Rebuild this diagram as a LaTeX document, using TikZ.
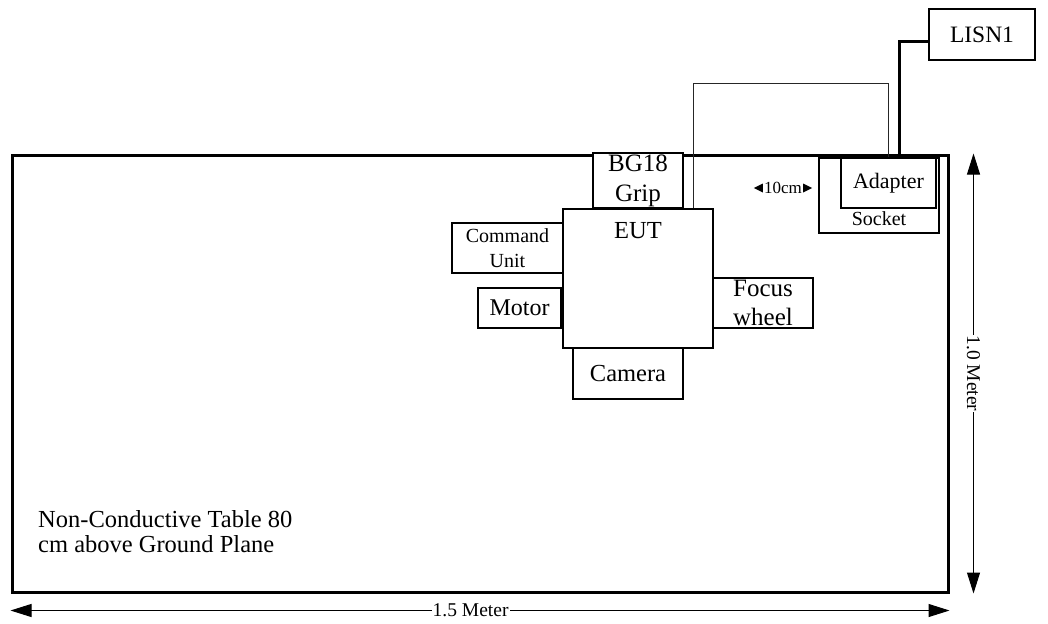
\documentclass[tikz,border=0pt]{standalone}
\usepackage{fontspec}
\setmainfont{Liberation Serif}
\usetikzlibrary{arrows.meta}

\begin{document}
\begin{tikzpicture}[x=1pt,y=-1pt,
  box/.style={draw,fill=white,line width=1.1pt,inner sep=0pt,align=center},
  dimline/.style={{Triangle[length=21pt,width=13pt]}-{Triangle[length=21pt,width=13pt]},line width=1pt},
  dimtext/.style={fill=white,inner sep=1pt,font=\fontsize{19.5}{24}\selectfont}]
  \useasboundingbox (0,0) rectangle (1048,623);
  % table top
  \node[draw,line width=3pt,minimum width=936pt,minimum height=437pt] (table) at (480,373.5) {};
  \node[anchor=west,align=left,inner sep=0pt,font=\fontsize{24.5}{25}\selectfont]
    (note) at (38,532) {Non-Conductive Table 80\\cm above Ground Plane};
  % units round the EUT
  \node[box,minimum width=111pt,minimum height=50pt,font=\fontsize{20}{25}\selectfont]
    (cmd) at (507.5,248) {Command\\Unit};
  \node[box,minimum width=83pt,minimum height=40pt,font=\fontsize{24}{28}\selectfont]
    (motor) at (519.5,308) {Motor};
  \node[box,minimum width=100pt,minimum height=50pt,font=\fontsize{25}{29}\selectfont]
    (focus) at (763,303) {Focus\\wheel};
  \node[box,minimum width=110pt,minimum height=51pt,font=\fontsize{24.5}{28}\selectfont]
    (camera) at (628,373.5) {Camera};
  \node[box,minimum width=90pt,minimum height=55pt,font=\fontsize{25}{30}\selectfont]
    (grip) at (638,180.5) {BG18\\Grip};
  \node[box,minimum width=150pt,minimum height=139pt,
    label={[anchor=north,inner sep=0pt,yshift=-14pt,font=\fontsize{24.5}{28}\selectfont]north:EUT}]
    (eut) at (638,278.5) {};
  % power path
  \node[box,minimum width=120pt,minimum height=75pt,
    label={[anchor=south,inner sep=0pt,yshift=8pt,font=\fontsize{20}{23}\selectfont]south:Socket}]
    (socket) at (879,195.5) {};
  \node[box,minimum width=95pt,minimum height=50pt,font=\fontsize{22}{26}\selectfont]
    (adapter) at (888.5,183) {Adapter};
  \node[box,minimum width=106pt,minimum height=51pt,font=\fontsize{23.5}{26}\selectfont]
    (lisn) at (982,34.5) {LISN1};
  \draw[line width=1pt,black!85] ([xshift=55pt]eut.north) -- ++(0,-125) -| (adapter.north);
  \draw[line width=3pt] ([xshift=10.5pt]adapter.north) |- ([yshift=-7.5pt]lisn.west);
  % 10cm spacing mark
  \node[inner sep=1pt,font=\fontsize{17}{18}\selectfont] (gap) at (783,188) {10cm};
  \fill (gap.west) ++(0,-4.5) -- ++(0,9) -- ++(-9,-4.5) -- cycle;
  \fill (gap.east) ++(0,-4.5) -- ++(0,9) -- ++(9,-4.5) -- cycle;
  % dimensions
  \draw[dimline] ([xshift=24pt]table.north east) --
    node[dimtext,rotate=-90] {1.0 Meter} ([xshift=24pt]table.south east);
  \draw[dimline] ([yshift=-17pt]table.south west) --
    node[dimtext,pos=0.49] {1.5 Meter} ([yshift=-17pt]table.south east);
\end{tikzpicture}
\end{document}
